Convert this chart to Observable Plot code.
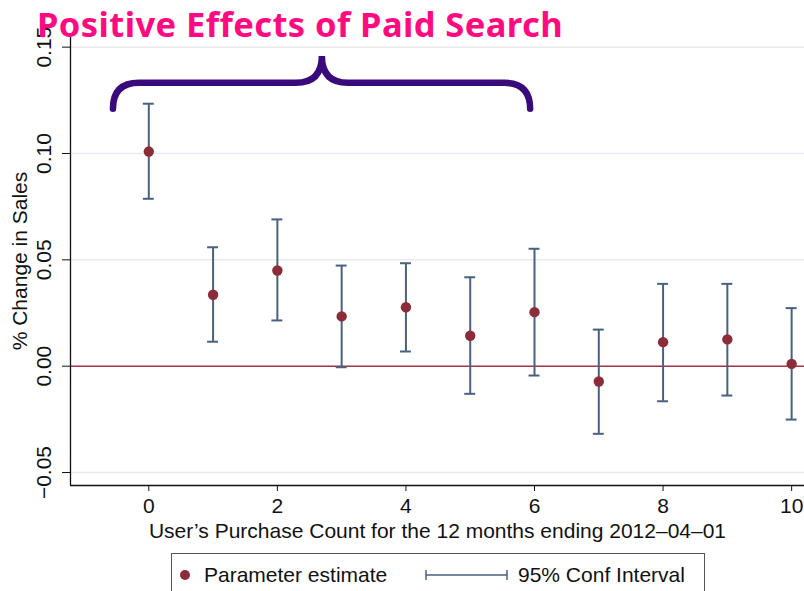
<!DOCTYPE html>
<html>
<head>
<meta charset="utf-8">
<script src="https://cdn.jsdelivr.net/npm/d3@7"></script>
<script src="https://cdn.jsdelivr.net/npm/@observablehq/plot@0.6"></script>
<style>
  html, body { margin: 0; padding: 0; background: #fff; }
  #wrap { position: relative; width: 804px; height: 591px; overflow: hidden; background: #fff; }
  #title { position: absolute; left: 37px; top: 0.3px; font-family: "Noto Sans", sans-serif; font-weight: 700;
           font-size: 34.5px; line-height: normal; color: #ff0a80; white-space: nowrap; z-index: 2; }
  #legend { position: absolute; left: 171px; top: 553px; width: 532px; height: 48px; border: 1px solid #555;
            font-family: "Liberation Sans", Arial, sans-serif; font-size: 21px; color: #111; }
  #legend .item { position: absolute; top: 9px; display: flex; align-items: center; white-space: nowrap; line-height: 24px; }
</style>
</head>
<body>
<div id="wrap">
  <div id="chart"></div>
  <div id="title">Positive Effects of Paid Search</div>
  <div id="legend">
    <div class="item" style="left:7px"><svg width="25" height="22"><circle cx="6" cy="11" r="5" fill="#8c2c38"/></svg><span>Parameter estimate</span></div>
    <div class="item" style="left:252px"><svg width="94" height="22"><line x1="2" x2="83" y1="11" y2="11" stroke="#4a6080" stroke-width="1.5"/><line x1="2" x2="2" y1="6" y2="16" stroke="#4a6080" stroke-width="1.5"/><line x1="83" x2="83" y1="6" y2="16" stroke="#4a6080" stroke-width="1.5"/></svg><span>95% Conf Interval</span></div>
  </div>
</div>
<script>
// ---- data ----
const purchaseCount = [0, 1, 2, 3, 4, 5, 6, 7, 8, 9, 10];
const estimate = [0.1009, 0.0336, 0.0450, 0.0234, 0.0277, 0.0143, 0.0254, -0.0072, 0.0113, 0.0126, 0.0011];
const ciUpper  = [0.1234, 0.0559, 0.0690, 0.0473, 0.0484, 0.0418, 0.0552, 0.0172, 0.0387, 0.0387, 0.0273];
const ciLower  = [0.0787, 0.0115, 0.0215, -0.0005, 0.0069, -0.0130, -0.0044, -0.0318, -0.0165, -0.0138, -0.0251];
const xTicks = [0, 2, 4, 6, 8, 10];
const yTicks = [-0.05, 0, 0.05, 0.10, 0.15];
const xDomain = [-1.218, 10.2];
const yDomain = [-0.0561, 0.155];
// brace annotation anchors (data units): left end, tip, right end; y levels
const braceX = [-0.55, 2.70, 5.94];
const braceY = [0.121, 0.133, 0.1456];

const data = purchaseCount.map((x, i) => ({x, est: estimate[i], hi: ciUpper[i], lo: ciLower[i]}));
const fmt = d => (d < 0 ? "\u2212" : "") + Math.abs(d).toFixed(2);
const capHalf = 0.085;
const barColor = "#4a6080";

const plot = Plot.plot({
  width: 804,
  height: 548,
  marginLeft: 70,
  marginRight: 0,
  marginTop: 36,
  marginBottom: 63,
  style: {fontFamily: "'Liberation Sans', Arial, sans-serif", fontSize: "21px", color: "#111", background: "transparent", overflow: "visible"},
  x: {domain: xDomain, ticks: xTicks, tickSize: 6, tickPadding: 7, label: null, tickFormat: d => String(d)},
  y: {domain: yDomain, ticks: yTicks, tickSize: 8, tickFormat: () => "", label: null},
  marks: [
    Plot.ruleY(yTicks, {stroke: "#e8ebee", strokeWidth: 1.5}),
    Plot.ruleY([0], {stroke: "#a83545", strokeWidth: 1.6}),
    Plot.ruleX(data, {x: "x", y1: "lo", y2: "hi", stroke: barColor, strokeWidth: 2}),
    Plot.ruleY(data, {y: "hi", x1: d => d.x - capHalf, x2: d => d.x + capHalf, stroke: barColor, strokeWidth: 2}),
    Plot.ruleY(data, {y: "lo", x1: d => d.x - capHalf, x2: d => d.x + capHalf, stroke: barColor, strokeWidth: 2}),
    Plot.dot(data, {x: "x", y: "est", r: 5.2, fill: "#8c2c38", stroke: "none"}),
    // axis lines
    Plot.ruleX([xDomain[0]], {stroke: "#111", strokeWidth: 1.3}),
    Plot.ruleY([yDomain[0]], {stroke: "#111", strokeWidth: 1.3}),
    Plot.text(yTicks, {y: d => d, text: fmt, frameAnchor: "left", dx: -26, rotate: -90, textAnchor: "middle", lineAnchor: "middle", fontSize: 21, fill: "#111"}),
    Plot.text(["% Change in Sales"], {frameAnchor: "left", dx: -50, rotate: -90, textAnchor: "middle", lineAnchor: "middle", fontSize: 21, fill: "#111"}),
    Plot.text(["User\u2019s Purchase Count for the 12 months ending 2012\u201304\u201301"], {frameAnchor: "bottom", dy: 46, textAnchor: "middle", lineAnchor: "middle", fontSize: 21, fill: "#111"})
  ]
});
document.getElementById("chart").appendChild(plot);

// brace annotation drawn with the plot's scales
const sx = plot.scale("x"), sy = plot.scale("y");
const X1 = sx.apply(braceX[0]), XM = sx.apply(braceX[1]), X2 = sx.apply(braceX[2]);
const YE = sy.apply(braceY[0]), YB = sy.apply(braceY[1]), YT = sy.apply(braceY[2]);
const r = 26;
const path = `M${X1},${YE} L${X1},${YB + r} Q${X1},${YB} ${X1 + r},${YB} L${XM - r},${YB} Q${XM},${YB} ${XM},${YT} ` +
             `M${XM},${YT} Q${XM},${YB} ${XM + r},${YB} L${X2 - r},${YB} Q${X2},${YB} ${X2},${YB + r} L${X2},${YE}`;
d3.select(plot).append("path").attr("d", path).attr("fill", "none").attr("stroke", "#3a0a7c")
  .attr("stroke-width", 6.5).attr("stroke-linejoin", "round");

// fit title to the reference width with letter-spacing (no transform)
const t = document.getElementById("title");
const n = t.textContent.length;
const w = t.getBoundingClientRect().width;
t.style.letterSpacing = Math.max(-3, (526 - w) / n) + "px";
</script>
</body>
</html>
